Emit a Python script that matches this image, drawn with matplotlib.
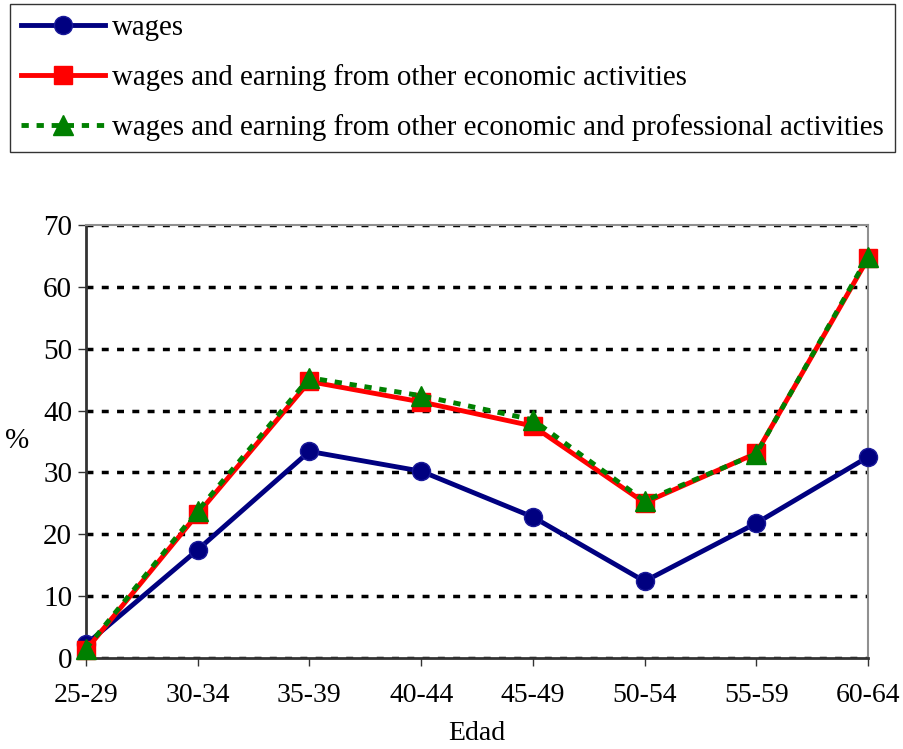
import numpy as np
import matplotlib.pyplot as plt

plt.rcParams["font.family"] = ["Liberation Serif", "DejaVu Serif"]

# dati
edad = ["25-29", "30-34", "35-39", "40-44", "45-49", "50-54", "55-59", "60-64"]
wages = [2.2, 17.5, 33.4, 30.2, 22.8, 12.4, 21.8, 32.5]
wages_other = [1.3, 23.3, 44.7, 41.4, 37.5, 25.1, 33.1, 64.6]
wages_prof = [1.5, 23.8, 45.3, 42.4, 38.5, 25.4, 33.0, 64.9]

x = np.arange(len(edad))

fig = plt.figure(figsize=(9.04, 7.49), dpi=100)
ax = fig.add_axes([86 / 904, 1 - 658 / 749, (868 - 86) / 904, (658 - 225) / 749])

l1, = ax.plot(x, wages, color="#000080", lw=3.5, marker="o", ms=13,
              mfc="#000080", mec="#1a1a9a", zorder=3, clip_on=False)
l2, = ax.plot(x, wages_other, color="#ff0000", lw=3.5, marker="s", ms=13,
              mfc="#ff0000", mec="#ff0000", zorder=4, clip_on=False)
l3, = ax.plot(x, wages_prof, color="#008000", lw=3.5, ls=(0, (1.5, 1.6)), marker="^",
              ms=15, mfc="#008000", mec="#008000", zorder=5, clip_on=False)

ax.set_xlim(0, len(edad) - 1)
ax.set_ylim(0, 70)
ax.set_yticks(range(0, 71, 10))
ax.set_xticks(x)
ax.set_xticklabels(edad)
ax.tick_params(axis="both", direction="out", length=6, width=1, color="#333333")
ax.tick_params(axis="x", labelsize=20, pad=12)
ax.tick_params(axis="y", labelsize=21, pad=4)

ax.grid(axis="y", color="black", ls=(0, (2, 2.4)), lw=2.5)
ax.set_axisbelow(True)

for s in ["top", "right"]:
    ax.spines[s].set_color("#909090")
    ax.spines[s].set_linewidth(1.5)
for s in ["left", "bottom"]:
    ax.spines[s].set_color("#333333")
    ax.spines[s].set_linewidth(2)

ax.set_xlabel("Edad", fontsize=20, labelpad=9)
ax.set_ylabel("%", fontsize=21, rotation=0, va="center")
ax.yaxis.set_label_coords(-0.088, 0.5)

fig.legend([l1, l2, l3],
           ["wages", "wages and earning from other economic activities",
            "wages and earning from other economic and professional activities"],
           loc="upper left", bbox_to_anchor=(10 / 904, 1 - 4 / 749),
           fontsize=20.8, frameon=True, fancybox=False, edgecolor="black",
           handlelength=2.9, handletextpad=0.25, labelspacing=0.8,
           borderpad=0.38, borderaxespad=0)

fig.savefig("out.png", dpi=100)
